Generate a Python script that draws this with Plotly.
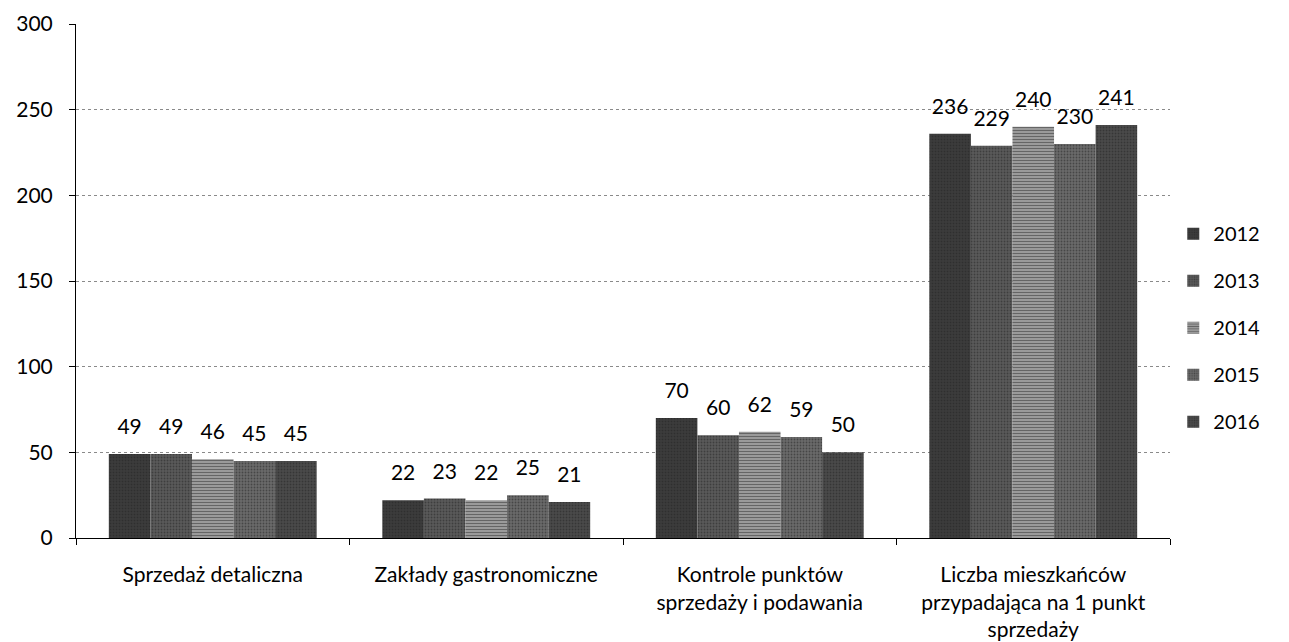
import plotly.graph_objects as go

categories = [
    "Sprzedaż detaliczna",
    "Zakłady gastronomiczne",
    "Kontrole punktów<br>sprzedaży i podawania",
    "Liczba mieszkańców<br>przypadająca na 1 punkt<br>sprzedaży",
]
years = ["2012", "2013", "2014", "2015", "2016"]
values = {
    "2012": [49, 22, 70, 236],
    "2013": [49, 23, 60, 229],
    "2014": [46, 22, 62, 240],
    "2015": [45, 25, 59, 230],
    "2016": [45, 21, 50, 241],
}
colors = {"2012": "#3c3c3c", "2013": "#5a5a5a", "2014": "#9a9a9a", "2015": "#6a6a6a", "2016": "#4a4a4a"}
patterns = {"2012": ".", "2013": ".", "2014": "-", "2015": ".", "2016": "."}

font = "Lato, Noto Sans, sans-serif"

fig = go.Figure()
for y in years:
    fig.add_trace(go.Bar(
        name=y,
        legendgroup=y,
        offsetgroup=y,
        x=categories,
        y=values[y],
        marker=dict(
            color=colors[y],
            line=dict(width=0),
            pattern=dict(shape=patterns[y], fgcolor="#222222", size=3, solidity=0.3),
        ),
    ))
# value labels, grouped the same way as the bars
for y in years:
    fig.add_trace(go.Scatter(
        x=categories,
        y=values[y],
        offsetgroup=y,
        mode="markers+text",
        text=values[y],
        textposition="top center",
        textfont=dict(size=21, color="black", family=font),
        marker=dict(size=22, color="rgba(0,0,0,0)"),
        showlegend=False,
        hoverinfo="skip",
        cliponaxis=False,
    ))

fig.update_layout(
    width=1281, height=634,
    barmode="group",
    scattermode="group",
    bargap=0.24,
    scattergap=0.24,
    bargroupgap=0,
    plot_bgcolor="white",
    paper_bgcolor="white",
    margin=dict(l=68, r=119, t=16, b=104, autoexpand=False),
    font=dict(family=font, size=21, color="black"),
    legend=dict(
        x=1.003, y=0.63, xanchor="left", yanchor="top",
        font=dict(size=20), traceorder="grouped", tracegroupgap=18,
        itemwidth=30,
    ),
)
fig.update_yaxes(
    range=[0, 300], dtick=50,
    showgrid=True, gridcolor="#8a8a8a", griddash="dot", gridwidth=1,
    showline=True, linecolor="black", linewidth=1,
    ticks="outside", ticklen=6, tickcolor="black",
    tickfont=dict(size=21), ticklabelstandoff=12,
    zeroline=False, automargin=False,
)
fig.update_xaxes(
    showline=True, linecolor="black", linewidth=1,
    ticks="outside", ticklen=6, tickcolor="black",
    tickson="boundaries",
    tickfont=dict(size=21), ticklabelstandoff=18,
    automargin=False,
)

fig.write_html("out.html")
